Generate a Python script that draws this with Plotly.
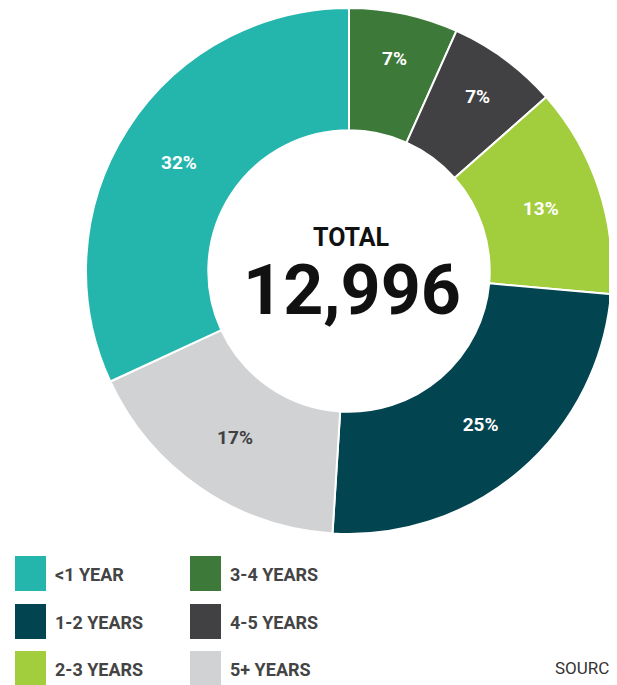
import plotly.graph_objects as go

# slices, clockwise from 12 o'clock
labels = ['3-4 YEARS', '4-5 YEARS', '2-3 YEARS', '1-2 YEARS', '5+ YEARS', '<1 YEAR']
values = [6.7, 6.8, 12.9, 24.6, 17.1, 31.9]
colors = ['#3D7A3A', '#414042', '#A2CD3C', '#02444F', '#D1D2D4', '#24B5AC']
text_colors = ['white', 'white', 'white', 'white', '#414042', 'white']

# legend layout (column-wise as in the reference)
legend_cols = [
    ['<1 YEAR', '1-2 YEARS', '2-3 YEARS'],
    ['3-4 YEARS', '4-5 YEARS', '5+ YEARS'],
]
total_label = 'TOTAL'
total_value = '12,996'

W, H = 617, 685
OFF = 8  # page body margin
FONT = 'Roboto'


def px(x):
    return (x - OFF) / W


def py(y):
    return min(1, 1 - (y - OFF) / H)


fig = go.Figure(go.Pie(
    labels=labels,
    values=values,
    sort=False,
    direction='clockwise',
    rotation=0,
    hole=0.535,
    marker=dict(colors=colors, line=dict(color='white', width=2)),
    textinfo='percent',
    texttemplate='%{percent:.0%}',
    textposition='inside',
    insidetextorientation='horizontal',
    textfont=dict(family=FONT, size=19, color=text_colors, weight='bold'),
    showlegend=False,
    domain=dict(x=[px(86), px(612)], y=[py(534), py(8)]),
))

annotations = [
    dict(text=total_label, x=px(351), y=py(237), xref='paper', yref='paper',
         xanchor='center', yanchor='middle',
         showarrow=False, font=dict(family=FONT, size=25, color='#111111', weight='bold')),
    dict(text=total_value, x=px(352), y=py(290), xref='paper', yref='paper',
         xanchor='center', yanchor='middle',
         showarrow=False, font=dict(family=FONT, size=70, color='#111111', weight='bold')),
    dict(text='SOURCE: ', x=px(553), y=py(668), xref='paper', yref='paper',
         xanchor='left', yanchor='middle', showarrow=False,
         font=dict(family=FONT, size=17, color='#333333')),
]

shapes = []
col_x = [15, 190]
row_y = [556, 604, 651]
for ci, col in enumerate(legend_cols):
    for ri, name in enumerate(col):
        c = colors[labels.index(name)]
        x0, y0 = col_x[ci], row_y[ri]
        shapes.append(dict(type='rect', xref='paper', yref='paper',
                           x0=px(x0), x1=px(x0 + 31),
                           y0=py(y0 + 35), y1=py(y0),
                           fillcolor=c, line=dict(width=0)))
        annotations.append(dict(text=name, x=px(x0 + 38), y=py(y0 + 18),
                                xref='paper', yref='paper', xanchor='left', yanchor='middle',
                                showarrow=False,
                                font=dict(family=FONT, size=18, color='#444444', weight='bold')))

fig.update_layout(
    width=W, height=H,
    margin=dict(l=0, r=0, t=0, b=0),
    paper_bgcolor='white',
    plot_bgcolor='white',
    annotations=annotations,
    shapes=shapes,
    uniformtext=dict(minsize=19, mode='show'),
)

fig.write_html("out.html")
